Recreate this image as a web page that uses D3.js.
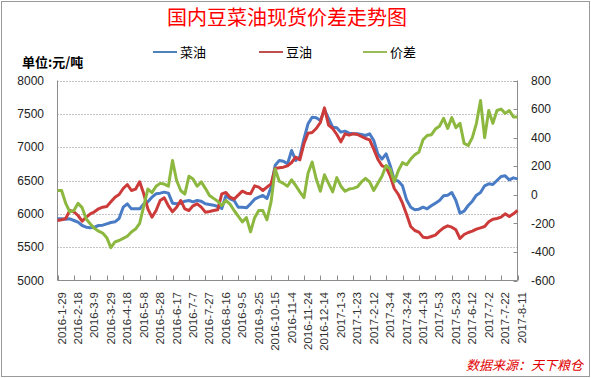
<!DOCTYPE html>
<html>
<head>
<meta charset="utf-8">
<title>国内豆菜油现货价差走势图</title>
<script src="https://d3js.org/d3.v7.min.js"></script>
<style>
  body { margin: 0; background: #fff; }
  text { font-family: "Liberation Sans", Arial, sans-serif; }
  .cjk { font-family: "Noto Sans CJK SC", sans-serif; }
</style>
</head>
<body>
<div id="chart"></div>
<script>
// values, one every 5 days from 2016-1-29 to 2017-8-11
var caiyou = [5925,5925,5920,5925,5900,5875,5825,5800,5790,5800,5825,5830,5850,5870,5880,5930,6100,6150,6075,6075,
  6075,6150,6180,6250,6300,6310,6325,6310,6160,6150,6160,6190,6200,6180,6200,6190,6150,6140,6130,6110,
  6080,6270,6225,6200,6100,6100,6090,6150,6220,6250,6275,6230,6400,6730,6800,6790,6750,6950,6800,6860,
  7125,7350,7450,7440,7400,7560,7430,7300,7290,7225,7240,7210,7200,7200,7190,7175,7200,7100,6900,6820,
  6900,6725,6510,6490,6420,6210,6100,6060,6070,6100,6075,6120,6160,6200,6270,6280,6320,6200,6010,6040,
  6125,6190,6280,6320,6420,6450,6440,6500,6560,6570,6510,6540,6525];

var douyou = [5900,5910,5930,6050,6030,5975,5890,5950,6000,6030,6075,6100,6110,6180,6250,6290,6380,6440,6350,6370,
  6480,6300,6075,5950,6050,6200,6240,6120,6030,6100,6200,6075,6050,6120,6150,6100,6025,6035,6050,6060,
  6300,6320,6250,6220,6280,6340,6310,6300,6420,6400,6350,6400,6450,6680,6690,6700,6720,6770,6850,6810,
  7050,7210,7220,7280,7370,7590,7330,7280,7190,7080,7200,7180,7200,7190,7160,7130,7110,6970,6820,6720,
  6700,6570,6380,6290,6160,5990,5810,5750,5725,5650,5640,5660,5680,5740,5790,5820,5800,5760,5630,5690,
  5720,5740,5770,5790,5810,5880,5920,5930,5950,6000,5960,6000,6050];

var jiacha = [30,30,-60,-120,-110,-60,-90,-170,-205,-235,-255,-268,-300,-370,-330,-320,-305,-290,-260,-240,
  -200,-80,40,15,60,80,75,60,240,100,30,5,130,110,60,90,45,-5,-25,-45,
  -75,-40,-65,-110,-150,-190,-160,-260,-160,-110,-110,-175,-50,180,95,80,60,105,65,20,
  -20,150,230,110,25,140,80,20,120,60,25,40,45,55,90,115,90,30,80,130,
  205,180,90,170,225,210,250,280,300,385,415,420,460,480,535,465,540,470,500,360,
  345,400,500,660,400,590,500,590,600,570,590,545,545];

var leftTicks = [5000, 5500, 6000, 6500, 7000, 7500, 8000];
var rightTicks = [-600, -400, -200, 0, 200, 400, 600, 800];

var start = new Date(Date.UTC(2016, 0, 29)),
    end = new Date(Date.UTC(2017, 7, 11));
var dates = d3.utcDay.range(start, d3.utcDay.offset(end, 1), 5);
var tickDates = d3.utcDay.range(start, d3.utcDay.offset(end, 1), 20);

var W = 591, H = 378;
var plot = {left: 57.5, right: 517.5, top: 80.5, bottom: 280.5};

var svg = d3.select("#chart").append("svg")
  .attr("width", W).attr("height", H);

svg.append("rect")
  .attr("x", 1.5).attr("y", 1.5)
  .attr("width", W - 3).attr("height", H - 3)
  .attr("fill", "#fff").attr("stroke", "#9a9a9a");

var x = d3.scaleUtc().domain([start, end]).range([plot.left, plot.right]);
var yL = d3.scaleLinear().domain([5000, 8000]).range([plot.bottom, plot.top]);
var yR = d3.scaleLinear().domain([-600, 800]).range([plot.bottom, plot.top]);

// title
svg.append("text").attr("class", "cjk")
  .attr("x", 287).attr("y", 25)
  .attr("text-anchor", "middle")
  .attr("fill", "#ff0000")
  .style("font-size", "20px")
  .text("国内豆菜油现货价差走势图");

svg.append("text").attr("class", "cjk")
  .attr("x", 22).attr("y", 67)
  .style("font-size", "13px").style("font-weight", "bold")
  .text("单位:元/吨");

// gridlines
svg.append("g").selectAll("line")
  .data(leftTicks.filter(function(d) { return d > 5000; }))
  .enter().append("line")
  .attr("x1", plot.left).attr("x2", plot.right)
  .attr("y1", function(d) { return Math.round(yL(d)) + 0.5; })
  .attr("y2", function(d) { return Math.round(yL(d)) + 0.5; })
  .attr("stroke", "#8a8a8a")
  .attr("stroke-dasharray", "1,2");

// axis lines
var axisColor = "#8c8c8c";
svg.append("line").attr("x1", plot.left).attr("x2", plot.left)
  .attr("y1", plot.top).attr("y2", plot.bottom).attr("stroke", axisColor);
svg.append("line").attr("x1", plot.right).attr("x2", plot.right)
  .attr("y1", plot.top).attr("y2", plot.bottom).attr("stroke", axisColor);
svg.append("line").attr("x1", plot.left).attr("x2", plot.right)
  .attr("y1", plot.bottom).attr("y2", plot.bottom).attr("stroke", axisColor);

// x ticks + labels
svg.append("g").selectAll("line")
  .data(tickDates).enter().append("line")
  .attr("x1", function(d) { return Math.round(x(d)) + 0.5; })
  .attr("x2", function(d) { return Math.round(x(d)) + 0.5; })
  .attr("y1", plot.bottom - 5).attr("y2", plot.bottom)
  .attr("stroke", axisColor);

function fmt(d) {
  return d.getUTCFullYear() + "-" + (d.getUTCMonth() + 1) + "-" + d.getUTCDate();
}

svg.append("g").selectAll("text")
  .data(tickDates).enter().append("text")
  .attr("transform", function(d) { return "translate(" + (x(d) + 4) + "," + 292 + ") rotate(-90)"; })
  .attr("text-anchor", "end")
  .attr("dy", "0.35em")
  .style("font-size", "11.5px")
  .attr("fill", "#333")
  .text(fmt);

// right ticks
svg.append("g").selectAll("line")
  .data(rightTicks).enter().append("line")
  .attr("x1", plot.right - 4).attr("x2", plot.right)
  .attr("y1", function(d) { return Math.round(yR(d)) + 0.5; })
  .attr("y2", function(d) { return Math.round(yR(d)) + 0.5; })
  .attr("stroke", axisColor);

// left labels
svg.append("g").selectAll("text")
  .data(leftTicks).enter().append("text")
  .attr("x", 44).attr("y", function(d) { return yL(d); })
  .attr("dy", "0.35em").attr("text-anchor", "end")
  .style("font-size", "12px").attr("fill", "#222")
  .text(function(d) { return d; });

// right labels
svg.append("g").selectAll("text")
  .data(rightTicks).enter().append("text")
  .attr("x", 531).attr("y", function(d) { return yR(d); })
  .attr("dy", "0.35em").attr("text-anchor", "start")
  .style("font-size", "12px").attr("fill", "#222")
  .text(function(d) { return d; });

// series
var series = [
  {name: "菜油", values: caiyou, y: yL, color: "#4a7cc6"},
  {name: "豆油", values: douyou, y: yL, color: "#cc3a3a"},
  {name: "价差", values: jiacha, y: yR, color: "#8cb840"}
];

series.forEach(function(s) {
  var line = d3.line()
    .x(function(d, i) { return x(dates[i]); })
    .y(function(d) { return s.y(d); });
  svg.append("path")
    .datum(s.values)
    .attr("d", line)
    .attr("fill", "none")
    .attr("stroke", s.color)
    .attr("stroke-width", 3)
    .attr("stroke-linejoin", "round");
});

// legend
var legendX = [153, 259, 363];
var legendColors = ["#4f81bd", "#c0504d", "#9bbb59"];
series.forEach(function(s, i) {
  svg.append("line")
    .attr("x1", legendX[i]).attr("x2", legendX[i] + 24)
    .attr("y1", 52).attr("y2", 52)
    .attr("stroke", legendColors[i]).attr("stroke-width", 2);
  svg.append("text").attr("class", "cjk")
    .attr("x", legendX[i] + 27).attr("y", 52)
    .attr("dy", "0.35em")
    .style("font-size", "13px")
    .text(s.name);
});

// source
svg.append("text").attr("class", "cjk")
  .attr("x", 583).attr("y", 370)
  .attr("text-anchor", "end")
  .attr("fill", "#e00000")
  .style("font-size", "13px").style("font-style", "italic")
  .text("数据来源：天下粮仓");
</script>
</body>
</html>
